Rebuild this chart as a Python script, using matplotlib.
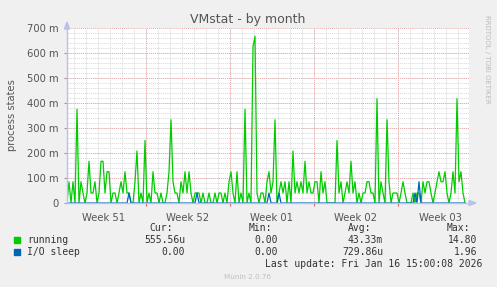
import numpy as np
import pandas as pd
import matplotlib
matplotlib.use("Agg")
import matplotlib.pyplot as plt
import matplotlib.dates as mdates
from matplotlib.transforms import blended_transform_factory

# --- data (values in milli process states, one sample per 4 hours) ---
start = pd.Timestamp("2025-12-15 10:00")
end = pd.Timestamp("2026-01-17 22:00")

running_m = [
    0, 85, 0, 85, 0, 375, 0, 85, 40, 0,
    40, 167, 40, 40, 85, 0, 40, 167, 167, 40,
    125, 125, 0, 40, 40, 0, 40, 85, 40, 125,
    40, 40, 0, 0, 85, 208, 0, 40, 0, 250,
    0, 40, 0, 125, 40, 40, 0, 40, 0, 0,
    40, 125, 333, 85, 40, 40, 0, 85, 40, 125,
    40, 125, 40, 0, 40, 40, 40, 0, 40, 0,
    0, 40, 0, 0, 40, 0, 40, 40, 0, 40,
    0, 85, 125, 40, 0, 125, 0, 40, 0, 375,
    0, 40, 0, 625, 667, 40, 0, 40, 40, 0,
    85, 125, 40, 85, 333, 0, 40, 85, 40, 85,
    0, 85, 0, 208, 40, 85, 40, 85, 40, 167,
    40, 85, 40, 40, 85, 85, 0, 125, 40, 85,
    0, 0, 0, 0, 0, 250, 40, 85, 0, 40,
    85, 40, 167, 40, 85, 0, 40, 0, 40, 40,
    85, 85, 40, 40, 0, 417, 0, 85, 40, 0,
    333, 85, 0, 40, 40, 40, 0, 40, 85, 40,
    0, 0, 0, 40, 0, 40, 40, 0, 85, 40,
    85, 85, 40, 0, 40, 85, 125, 85, 85, 125,
    40, 0, 40, 125, 40, 417, 85, 125, 40, 0,
]
io_sleep_idx = [31, 65, 101, 106, 174, 176]
io_sleep_m = [40, 40, 40, 40, 40, 85]

week_labels = ["Week 51", "Week 52", "Week 01", "Week 02", "Week 03"]
week_starts = pd.date_range("2025-12-15", periods=5, freq="7D")

y_ticks_m = [0, 100, 200, 300, 400, 500, 600, 700]

legend_rows = [
    ("running", "#00cc00", ["555.56u", "0.00", "43.33m", "14.80"]),
    ("I/O sleep", "#0066b3", ["0.00", "0.00", "729.86u", "1.96"]),
]
stat_headers = ["Cur:", "Min:", "Avg:", "Max:"]

times = pd.date_range(start, periods=len(running_m), freq="4h")
running = np.array(running_m) / 1000.0
io_sleep = np.zeros(len(running_m))
io_sleep[io_sleep_idx] = np.array(io_sleep_m) / 1000.0

# --- figure ---
W, H = 497, 287
fig = plt.figure(figsize=(W / 100, H / 100), dpi=100)
fig.patch.set_facecolor("#f0f0f0")
ax = fig.add_axes([67 / W, (H - 203) / H, 402 / W, 175 / H])
ax.set_facecolor("white")

x0, x1 = mdates.date2num(start), mdates.date2num(end)
ax.set_xlim(x0, x1)
ax.set_ylim(0, 0.7)

# grid
minor_col = "#d8d8d8"
major_col = "#e8a8a8"
dots = (0, (1, 1))
for d in pd.date_range("2025-12-16", end, freq="D"):
    ax.axvline(mdates.date2num(d), color=minor_col, lw=0.7, ls=dots, zorder=1)
for v in np.arange(0.02, 0.7, 0.02):
    ax.axhline(v, color=minor_col, lw=0.7, ls=dots, zorder=1)
for d in week_starts[1:]:
    ax.axvline(mdates.date2num(d), color=major_col, lw=0.7, ls=dots, zorder=1.5)
for v in y_ticks_m[1:]:
    ax.axhline(v / 1000.0, color=major_col, lw=0.7, ls=dots, zorder=1.5)

tn = mdates.date2num(times)
ax.plot(tn, running, color="#00cc00", lw=0.9, zorder=3)
ax.plot(tn, io_sleep, color="#0066b3", lw=0.9, zorder=4)

for s in ax.spines.values():
    s.set_visible(False)

# axes lines with arrows
axis_col = "#b8c0ec"
ax.plot([x0, x0], [0, 0.7], color=axis_col, lw=1.0, zorder=5, clip_on=False)
ax.plot([x0, x1], [0, 0], color=axis_col, lw=1.0, zorder=5, clip_on=False)
fig.patches.append(plt.Polygon([[64.5 / W, (H - 29) / H], [69.5 / W, (H - 29) / H], [67 / W, (H - 22) / H]],
                               closed=True, transform=fig.transFigure, color=axis_col, zorder=6))
fig.patches.append(plt.Polygon([[469 / W, (H - 200.5) / H], [469 / W, (H - 205.5) / H], [476 / W, (H - 203) / H]],
                               closed=True, transform=fig.transFigure, color=axis_col, zorder=6))

# ticks
ax.set_xticks(mdates.date2num(week_starts[1:]))
ax.tick_params(axis="x", colors="#e06060", length=2, width=0.8, labelbottom=False)
ax.set_yticks([v / 1000.0 for v in y_ticks_m])
ax.set_yticklabels([f"{v} m" if v else "0" for v in y_ticks_m], color="#555555", fontsize=7.2)
ax.tick_params(axis="y", length=2, width=0.8, color="#999999", pad=4)

trans = blended_transform_factory(ax.transData, ax.transAxes)
for d, lab in zip(week_starts, week_labels):
    xm = mdates.date2num(d + pd.Timedelta(hours=84))
    ax.text(xm, -0.055, lab, transform=trans, ha="center", va="top", fontsize=7.2, color="#555555")

# titles
fig.text(248 / W, 1 - 19 / H, "VMstat - by month", ha="center", va="center", fontsize=9, color="#555555")
fig.text(12 / W, 1 - 115 / H, "process states", ha="center", va="center", rotation=90, fontsize=7.2, color="#555555")
fig.text(487 / W, 1 - 15 / H, "RRDTOOL / TOBI OETIKER", ha="center", va="top", rotation=270, fontsize=5, color="#bbbbbb")

# legend table
mono = dict(family="DejaVu Sans Mono", fontsize=7, color="#333333")
header_x = [173, 272, 371, 470]
value_x = [185, 278, 383, 477]
for hx, h in zip(header_x, stat_headers):
    fig.text(hx / W, 1 - 228 / H, h, ha="right", va="center", **mono)
for row, (name, col, vals) in enumerate(legend_rows):
    yy = 1 - (240 + 12 * row) / H
    fig.patches.append(plt.Rectangle((14 / W, yy - 3 / H), 6 / W, 6 / H, transform=fig.transFigure,
                                     color=col, zorder=5))
    fig.text(27 / W, yy, name, ha="left", va="center", **mono)
    for vx, v in zip(value_x, vals):
        fig.text(vx / W, yy, v, ha="right", va="center", **mono)
fig.text(482 / W, 1 - 264 / H, "Last update: Fri Jan 16 15:00:08 2026", ha="right", va="center", **mono)
fig.text(248 / W, 1 - 277 / H, "Munin 2.0.76", ha="center", va="center", fontsize=5.2, color="#c0c0c0")

fig.savefig("out.png", dpi=100, facecolor=fig.get_facecolor())
